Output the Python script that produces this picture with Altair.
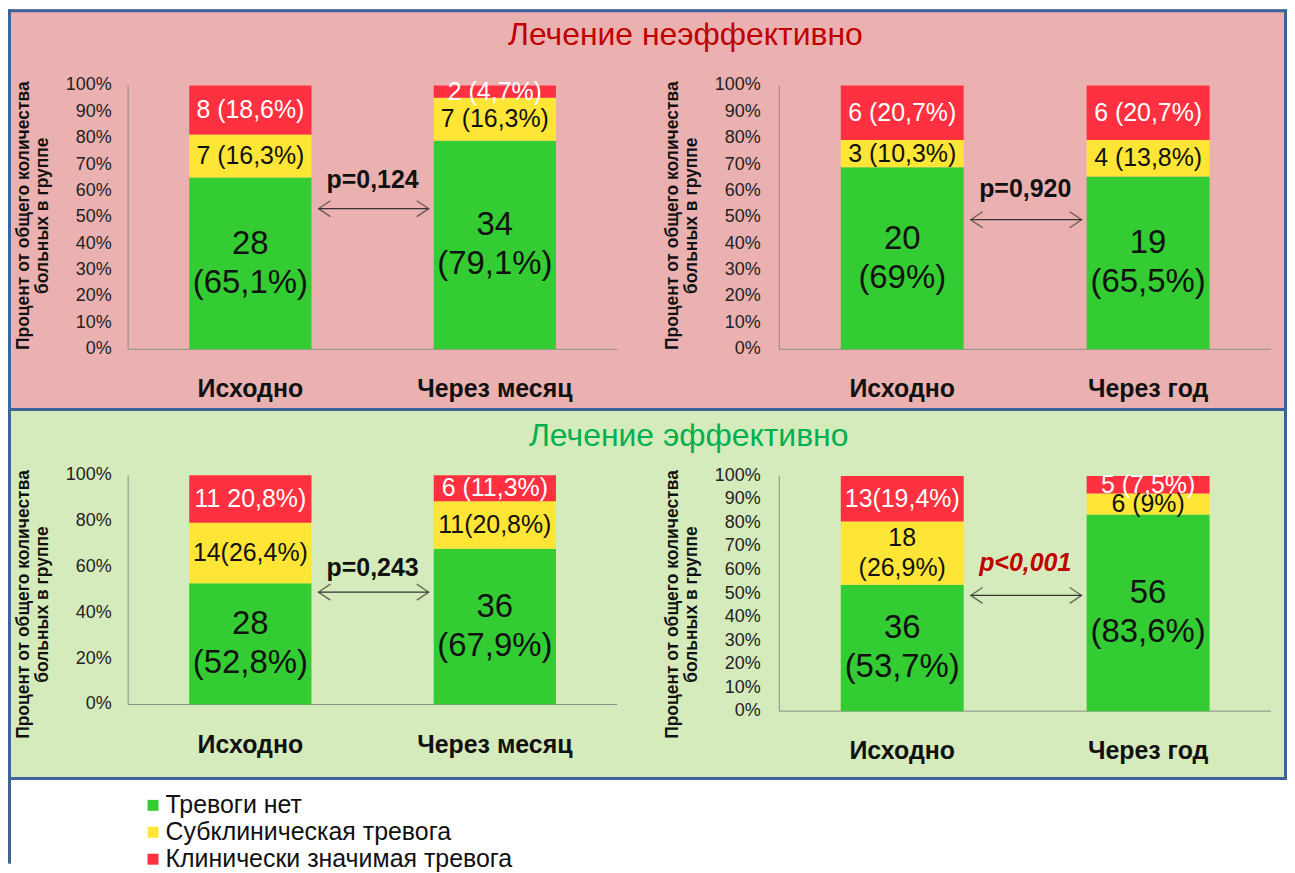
import altair as alt
import pandas as pd

FONT = "Liberation Sans"

# ---------------- data ----------------
LEVELS = ["Тревоги нет", "Субклиническая тревога", "Клинически значимая тревога"]
LEVEL_COLORS = ["#33CC33", "#FFE535", "#FF3040"]

ROW_TITLES = ["Лечение неэффективно", "Лечение эффективно"]
Y_AXIS_TITLE = ["Процент  от общего количества", "больных в группе"]

Y_TICKS_10 = [0, 10, 20, 30, 40, 50, 60, 70, 80, 90, 100]
Y_TICKS_20 = [0, 20, 40, 60, 80, 100]

P1_PERIODS = ["Исходно", "Через месяц"]
P1_NONE = [28, 34]
P1_SUB = [7, 7]
P1_CLIN = [8, 2]
P1_LABEL_NONE = ["28\n(65,1%)", "34\n(79,1%)"]
P1_LABEL_SUB = ["7 (16,3%)", "7 (16,3%)"]
P1_LABEL_CLIN = ["8 (18,6%)", "2 (4,7%)"]
P1_P = "p=0,124"

P2_PERIODS = ["Исходно", "Через год"]
P2_NONE = [20, 19]
P2_SUB = [3, 4]
P2_CLIN = [6, 6]
P2_LABEL_NONE = ["20\n(69%)", "19\n(65,5%)"]
P2_LABEL_SUB = ["3 (10,3%)", "4 (13,8%)"]
P2_LABEL_CLIN = ["6 (20,7%)", "6 (20,7%)"]
P2_P = "p=0,920"

P3_PERIODS = ["Исходно", "Через месяц"]
P3_NONE = [28, 36]
P3_SUB = [14, 11]
P3_CLIN = [11, 6]
P3_LABEL_NONE = ["28\n(52,8%)", "36\n(67,9%)"]
P3_LABEL_SUB = ["14(26,4%)", "11(20,8%)"]
P3_LABEL_CLIN = ["11 20,8%)", "6 (11,3%)"]
P3_P = "p=0,243"

P4_PERIODS = ["Исходно", "Через год"]
P4_NONE = [36, 56]
P4_SUB = [18, 6]
P4_CLIN = [13, 5]
P4_LABEL_NONE = ["36\n(53,7%)", "56\n(83,6%)"]
P4_LABEL_SUB = ["18\n(26,9%)", "6 (9%)"]
P4_LABEL_CLIN = ["13(19,4%)", "5 (7,5%)"]
P4_P = "p<0,001"

# ---------------- styling / layout ----------------
PINK = "#EBB1B1"
GREEN_BG = "#D6EBBC"
FRAME = "#3D6398"
AXIS_GRAY = "#8C8C8C"
W_L, W_R = 641, 642
H_ROW1, H_ROW2, H_LEG = 400, 373, 84


def make_df(periods, none, sub, clin, lab_none, lab_sub, lab_clin):
    rows = []
    for i, per in enumerate(periods):
        counts = [none[i], sub[i], clin[i]]
        labels = [lab_none[i], lab_sub[i], lab_clin[i]]
        for order, lvl in enumerate(LEVELS):
            rows.append({"period": per, "level": lvl, "order": order,
                         "n": counts[order], "label": labels[order]})
    return pd.DataFrame(rows)


LEGEND = alt.Legend(orient="none", legendX=133, legendY=786, title=None,
                    direction="vertical", labelFont=FONT, labelFontSize=25,
                    labelColor="#111111", labelLimit=600, symbolType="square",
                    symbolSize=121, symbolStrokeWidth=0, rowPadding=1,
                    labelOffset=0, padding=0)


def frame_layers(W, H, left=False, right=False, top=False, bottom=False):
    d = alt.Chart(pd.DataFrame({"k": [0]}))
    out = []
    boxes = []
    if left:
        boxes.append((0, 3, 0, H))
    if right:
        boxes.append((W - 3, W, 0, H))
    if top:
        boxes.append((0, W, 0, 3))
    if bottom:
        boxes.append((0, W, H - 3, H))
    for x1, x2, y1, y2 in boxes:
        out.append(d.mark_rect(color=FRAME).encode(
            x=alt.value(x1), x2=alt.value(x2), y=alt.value(y1), y2=alt.value(y2)))
    return out


SINGLE = "indexof(datum.label, '\\n') < 0"
MULTI = "indexof(datum.label, '\\n') >= 0"


def panel(df, periods, pval, p_y, arrow_y, geom, bg, sides, p_style, title=None):
    W, H = geom["W"], geom["H"]
    xs = alt.Scale(domain=periods, range=geom["x_range"], paddingInner=0.5, paddingOuter=0.25)
    ys = alt.Scale(domain=[0, 100], range=geom["y_range"])
    base = (alt.Chart(df)
            .transform_joinaggregate(total="sum(n)", groupby=["period"])
            .transform_calculate(pct="100 * datum.n / datum.total")
            .transform_stack(stack="pct", groupby=["period"],
                             sort=[alt.SortField("order", order="ascending")],
                             as_=["y0", "y1"])
            .transform_calculate(mid="(datum.y0 + datum.y1) / 2"))

    # hand-built axes (drawn through the same scales)
    axis_df = alt.Chart(pd.DataFrame({"lo": [0], "hi": [100]}))
    y_line = axis_df.mark_rule(color=AXIS_GRAY, strokeWidth=1).encode(
        x=alt.value(geom["x_range"][0]),
        y=alt.Y("lo:Q", scale=ys, axis=None), y2="hi:Q")
    x_line = axis_df.mark_rule(color=AXIS_GRAY, strokeWidth=1).encode(
        x=alt.value(geom["x_range"][0]), x2=alt.value(geom["x_range"][1]),
        y=alt.Y("lo:Q", scale=ys, axis=None))
    y_ticks = (alt.Chart(pd.DataFrame({"v": geom["ticks"]}))
               .transform_calculate(lab="datum.v + '%'")
               .mark_text(font=FONT, fontSize=18, color="#222222", align="right", baseline="middle")
               .encode(x=alt.value(geom["tick_label_x"]),
                       y=alt.Y("v:Q", scale=ys, axis=None), text="lab:N"))
    cats = (alt.Chart(pd.DataFrame({"period": periods}))
            .mark_text(font=FONT, fontSize=25, fontWeight="bold", color="#111111", baseline="middle")
            .encode(x=alt.X("period:N", scale=xs, axis=None),
                    y=alt.value(geom["cat_y"]), text="period:N"))
    y_title = (alt.Chart(pd.DataFrame({"t": ["\n".join(Y_AXIS_TITLE)]}))
               .mark_text(font=FONT, fontSize=17.5, fontWeight="bold", angle=270, lineBreak="\n",
                          lineHeight=19, align="center", baseline="middle", color="#111111")
               .encode(x=alt.value(geom["ytitle_x"]), y=alt.value(geom["ytitle_y"]), text="t:N"))

    bars = base.mark_bar().encode(
        x=alt.X("period:N", scale=xs, axis=None),
        y=alt.Y("y0:Q", scale=ys, axis=None),
        y2="y1:Q",
        color=alt.Color("level:N", scale=alt.Scale(domain=LEVELS, range=LEVEL_COLORS), legend=LEGEND),
    )
    big = base.transform_filter(alt.datum.order == 0).mark_text(
        font=FONT, fontSize=33, lineHeight=39, lineBreak="\n", baseline="middle",
        dy=-19.5, color="#111111").encode(
        x=alt.X("period:N", scale=xs, axis=None),
        y=alt.Y("mid:Q", scale=ys, axis=None),
        text="label:N")
    small_color = alt.when(alt.datum.order == 2).then(alt.value("white")).otherwise(alt.value("#111111"))
    small1 = base.transform_filter(alt.datum.order > 0).transform_filter(SINGLE).mark_text(
        font=FONT, fontSize=25, baseline="middle").encode(
        x=alt.X("period:N", scale=xs, axis=None),
        y=alt.Y("mid:Q", scale=ys, axis=None),
        text="label:N", color=small_color)
    small2 = base.transform_filter(alt.datum.order > 0).transform_filter(MULTI).mark_text(
        font=FONT, fontSize=25, lineHeight=30, lineBreak="\n", baseline="middle", dy=-15).encode(
        x=alt.X("period:N", scale=xs, axis=None),
        y=alt.Y("mid:Q", scale=ys, axis=None),
        text="label:N", color=small_color)

    adf = pd.DataFrame([{"from": periods[0], "to": periods[1], "p": pval,
                         "p_y": p_y, "arrow_y": arrow_y}])
    ann = alt.Chart(adf)
    arrow = ann.mark_rule(color="#333333", strokeWidth=1.3, xOffset=7, x2Offset=-5).encode(
        x=alt.X("from:N", bandPosition=1, scale=xs, axis=None),
        x2=alt.X2("to:N", bandPosition=0),
        y=alt.Y("arrow_y:Q", scale=ys, axis=None))
    head_l = ann.mark_point(shape="M1.5,-1L0,0L1.5,1", size=256, filled=False,
                            color="#333333", strokeWidth=1.3, xOffset=7).encode(
        x=alt.X("from:N", bandPosition=1, scale=xs, axis=None),
        y=alt.Y("arrow_y:Q", scale=ys, axis=None))
    head_r = ann.mark_point(shape="M-1.5,-1L0,0L-1.5,1", size=256, filled=False,
                            color="#333333", strokeWidth=1.3, xOffset=-5).encode(
        x=alt.X("to:N", bandPosition=0, scale=xs, axis=None),
        y=alt.Y("arrow_y:Q", scale=ys, axis=None))
    ptext = ann.mark_text(font=FONT, fontSize=25, fontWeight="bold", baseline="middle",
                          xOffset=geom["gap_half"], **p_style).encode(
        x=alt.X("from:N", bandPosition=1, scale=xs, axis=None),
        y=alt.Y("p_y:Q", scale=ys, axis=None),
        text="p:N")
    layers = ([y_line, x_line, bars, y_ticks, cats, y_title, big, small1, small2,
               arrow, head_l, head_r, ptext] + frame_layers(W, H, **sides))
    if title is not None:
        text, color, tx, ty = title
        layers.append(alt.Chart(pd.DataFrame({"t": [text]})).mark_text(
            font=FONT, fontSize=32, color=color, baseline="middle", align="center").encode(
            x=alt.value(tx), y=alt.value(ty), text="t:N"))
    return alt.layer(*layers).properties(
        width=W, height=H, view=alt.ViewBackground(fill=bg, strokeWidth=0))


G1 = dict(W=W_L, H=H_ROW1, x_range=[120.5, 611], y_range=[341, 76.3], ticks=Y_TICKS_10,
          tick_label_x=104, cat_y=381, ytitle_x=16, ytitle_y=207, gap_half=61.3)
G2 = dict(W=W_R, H=H_ROW1, x_range=[132.7, 626], y_range=[341, 76.3], ticks=Y_TICKS_10,
          tick_label_x=114, cat_y=381, ytitle_x=26, ytitle_y=207, gap_half=61.7)
G3 = dict(W=W_L, H=H_ROW2, x_range=[120.5, 611], y_range=[297.3, 67.3], ticks=Y_TICKS_20,
          tick_label_x=104, cat_y=338, ytitle_x=16, ytitle_y=197, gap_half=61.3)
G4 = dict(W=W_R, H=H_ROW2, x_range=[132.7, 626], y_range=[304, 68], ticks=Y_TICKS_10,
          tick_label_x=114, cat_y=344, ytitle_x=26, ytitle_y=197, gap_half=61.7)

BLACK_P = dict(color="#111111")
RED_P = dict(color="#C00000", fontStyle="italic")

p1 = panel(make_df(P1_PERIODS, P1_NONE, P1_SUB, P1_CLIN, P1_LABEL_NONE, P1_LABEL_SUB, P1_LABEL_CLIN),
           P1_PERIODS, P1_P, 64.2, 53.3, G1, PINK, dict(left=True, top=True), BLACK_P)
p2 = panel(make_df(P2_PERIODS, P2_NONE, P2_SUB, P2_CLIN, P2_LABEL_NONE, P2_LABEL_SUB, P2_LABEL_CLIN),
           P2_PERIODS, P2_P, 60.6, 49.1, G2, PINK, dict(right=True, top=True), BLACK_P,
           title=(ROW_TITLES[0], "#C00000", 38.5, 25.5))
p3 = panel(make_df(P3_PERIODS, P3_NONE, P3_SUB, P3_CLIN, P3_LABEL_NONE, P3_LABEL_SUB, P3_LABEL_CLIN),
           P3_PERIODS, P3_P, 59.3, 49.0, G3, GREEN_BG, dict(left=True, top=True, bottom=True), BLACK_P)
p4 = panel(make_df(P4_PERIODS, P4_NONE, P4_SUB, P4_CLIN, P4_LABEL_NONE, P4_LABEL_SUB, P4_LABEL_CLIN),
           P4_PERIODS, P4_P, 63.1, 49.2, G4, GREEN_BG, dict(right=True, top=True, bottom=True), RED_P,
           title=(ROW_TITLES[1], "#00B050", 41.8, 28))

leg_area = alt.layer(*frame_layers(W_L + W_R, H_LEG, left=True)).properties(
    width=W_L + W_R, height=H_LEG, view=alt.ViewBackground(fill="white", strokeWidth=0))

chart = alt.vconcat(
    alt.hconcat(p1, p2, spacing=0, bounds="flush"),
    alt.hconcat(p3, p4, spacing=0, bounds="flush"),
    leg_area,
    spacing=0,
).properties(padding=0).configure(font=FONT, background="white").configure_view(strokeWidth=0)

chart.save("out.html", embed_options={"renderer": "svg", "actions": False})
